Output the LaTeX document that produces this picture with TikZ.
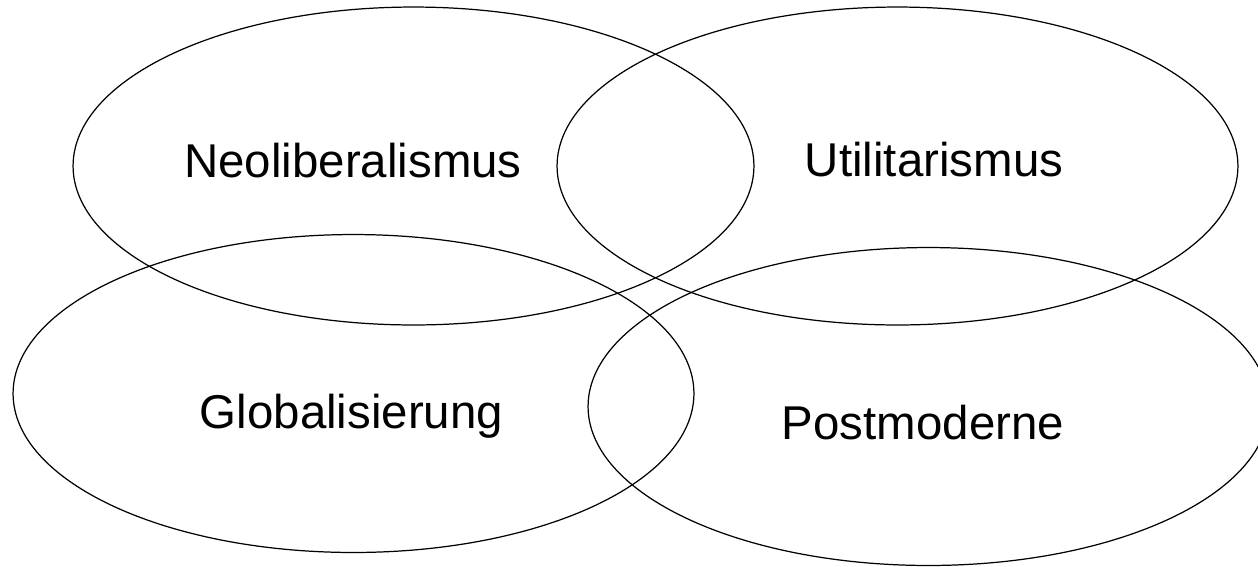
\documentclass[tikz,border=0pt]{standalone}
\usepackage{fontspec}
\setmainfont{Liberation Sans}
\usetikzlibrary{shapes.geometric}

\tikzset{
	field/.style={ellipse, draw, line width=0.7pt, minimum width=13.62cm, minimum height=6.36cm, inner sep=0pt},
	term/.style={anchor=base, font=\fontsize{27}{32}\selectfont}
}

\begin{document}
\begin{tikzpicture}[x=0.02cm, y=-0.02cm]
	\useasboundingbox (0,0) rectangle (1258,566);

	% the four overlapping fields
	\node[field] (neo) at (413.5,166) {};
	\node[field] (util) at (897.5,166) {};
	\node[field] (glob) at (353.5,393.5) {};
	\node[field] (post) at (928.5,406.5) {};

	% labels
	\node[term] (neolabel) at (353,177) {Neoliberalismus};
	\node[term] (utillabel) at (934,176) {Utilitarismus};
	\node[term] (globlabel) at (351.5,428) {Globalisierung};
	\node[term] (postlabel) at (923,439) {Postmoderne};
\end{tikzpicture}
\end{document}
